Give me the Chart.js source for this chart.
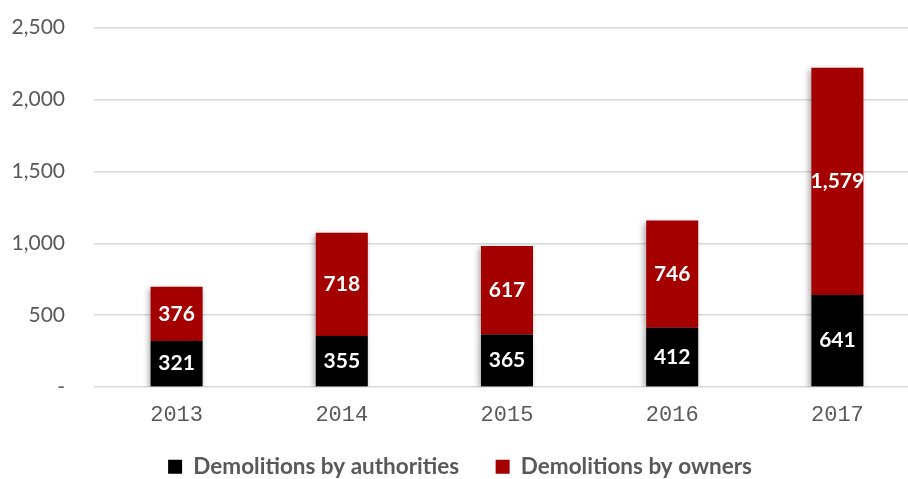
<!DOCTYPE html>
<html>
<head>
<meta charset="utf-8">
<script src="https://cdn.jsdelivr.net/npm/chart.js@4"></script>
<style>
  html, body { margin: 0; padding: 0; background: #fff; overflow: hidden; }
  #wrap { width: 920px; height: 502px; margin-top: -14px; }
</style>
</head>
<body>
<div id="wrap"><canvas id="demolitionsChart"></canvas></div>
<script>
const years = ['2013', '2014', '2015', '2016', '2017'];
const byAuthorities = [321, 355, 365, 412, 641];
const byOwners = [376, 718, 617, 746, 1579];
const yTicks = [0, 500, 1000, 1500, 2000, 2500];

// white bold values in the middle of each segment
const barLabels = {
  id: 'barLabels',
  afterDatasetsDraw(chart) {
    const ctx = chart.ctx;
    ctx.save();
    ctx.fillStyle = '#fff';
    ctx.font = 'bold 21px Lato, "Open Sans", sans-serif';
    ctx.textAlign = 'center';
    ctx.textBaseline = 'middle';
    chart.data.datasets.forEach((ds, i) => {
      chart.getDatasetMeta(i).data.forEach((bar, j) => {
        const mid = (bar.y + bar.base) / 2;
        ctx.fillText(ds.data[j].toLocaleString('en-US'), bar.x, mid);
      });
    });
    ctx.restore();
  }
};

// soft shadow behind the bars
const barShadow = {
  id: 'barShadow',
  beforeDatasetsDraw(chart) {
    const ctx = chart.ctx;
    ctx.save();
    ctx.shadowColor = 'rgba(0,0,0,0.35)';
    ctx.shadowBlur = 6;
    ctx.shadowOffsetX = -2;
    ctx.shadowOffsetY = 2;
  },
  afterDatasetsDraw(chart) {
    chart.ctx.restore();
  }
};

new Chart(document.getElementById('demolitionsChart'), {
  type: 'bar',
  data: {
    labels: years,
    datasets: [{
      label: 'Demolitions by authorities',
      data: byAuthorities,
      backgroundColor: '#000000',
      barPercentage: 0.315,
      categoryPercentage: 1
    }, {
      label: 'Demolitions by owners',
      data: byOwners,
      backgroundColor: '#a50000',
      barPercentage: 0.315,
      categoryPercentage: 1
    }]
  },
  options: {
    responsive: true,
    maintainAspectRatio: false,
    animation: false,
    layout: {padding: 0},
    plugins: {
      legend: {
        position: 'bottom',
        labels: {
          boxWidth: 14,
          boxHeight: 14,
          padding: 20,
          color: '#595959',
          font: {family: 'Lato, "Open Sans", sans-serif', size: 22.5, weight: 'bold', lineHeight: 1},
          generateLabels: chart => {
            const items = Chart.defaults.plugins.legend.labels.generateLabels(chart);
            items[0].text += '   ';
            return items;
          }
        }
      },
      tooltip: {enabled: false}
    },
    scales: {
      x: {
        stacked: true,
        grid: {display: false},
        border: {display: false},
        ticks: {
          color: '#595959',
          padding: 7,
          font: {family: '"Liberation Mono", "DejaVu Sans Mono", monospace', size: 22}
        }
      },
      y: {
        stacked: true,
        min: 0,
        max: 2500,
        afterBuildTicks: axis => { axis.ticks = yTicks.map(v => ({value: v})); },
        afterFit: axis => { axis.width = 94; },
        grid: {color: '#d9d9d9', lineWidth: 1.5, drawTicks: false},
        border: {display: false},
        ticks: {
          color: '#595959',
          padding: 29,
          font: {family: 'Lato, "Open Sans", sans-serif', size: 21},
          callback: v => v === 0 ? '-' : v.toLocaleString('en-US')
        }
      }
    }
  },
  plugins: [barShadow, barLabels]
});
</script>
</body>
</html>
